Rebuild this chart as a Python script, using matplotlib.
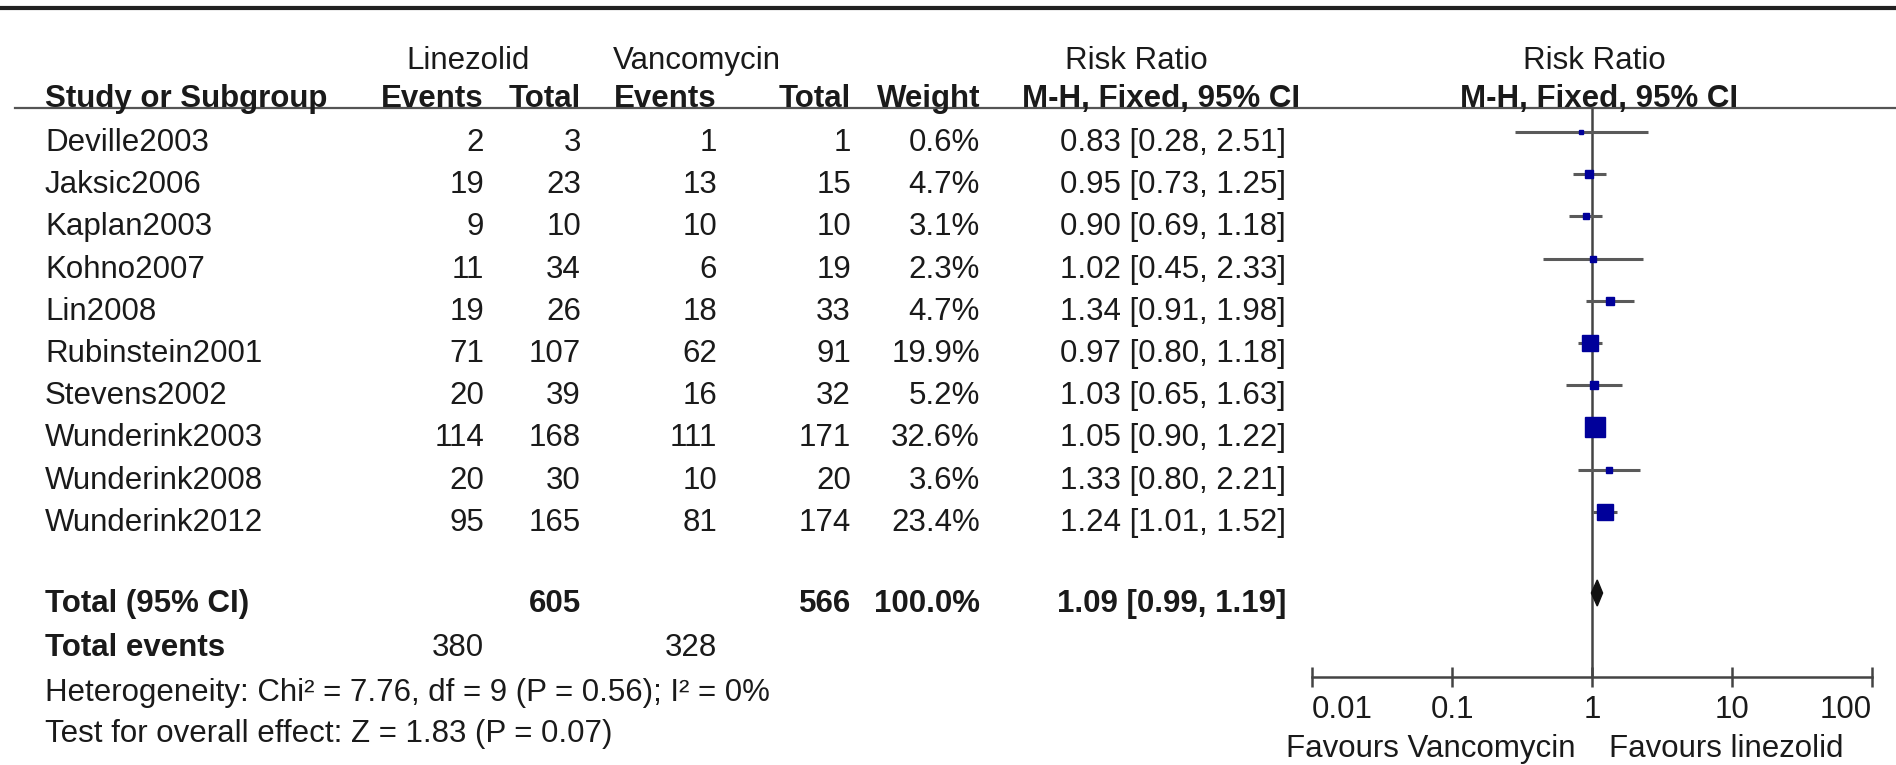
import numpy as np
import matplotlib.pyplot as plt

plt.rcParams['font.family'] = ['Liberation Sans', 'DejaVu Sans']

studies = ['Deville2003', 'Jaksic2006', 'Kaplan2003', 'Kohno2007', 'Lin2008',
           'Rubinstein2001', 'Stevens2002', 'Wunderink2003', 'Wunderink2008',
           'Wunderink2012']
lin_events = [2, 19, 9, 11, 19, 71, 20, 114, 20, 95]
lin_total = [3, 23, 10, 34, 26, 107, 39, 168, 30, 165]
van_events = [1, 13, 10, 6, 18, 62, 16, 111, 10, 81]
van_total = [1, 15, 10, 19, 33, 91, 32, 171, 20, 174]
weight = [0.6, 4.7, 3.1, 2.3, 4.7, 19.9, 5.2, 32.6, 3.6, 23.4]
rr = [0.83, 0.95, 0.90, 1.02, 1.34, 0.97, 1.03, 1.05, 1.33, 1.24]
rr_lo = [0.28, 0.73, 0.69, 0.45, 0.91, 0.80, 0.65, 0.90, 0.80, 1.01]
rr_hi = [2.51, 1.25, 1.18, 2.33, 1.98, 1.18, 1.63, 1.22, 2.21, 1.52]

tot_lin, tot_van = 605, 566
tot_weight = 100.0
tot_lin_events, tot_van_events = 380, 328
tot_rr, tot_lo, tot_hi = 1.09, 0.99, 1.19
heterogeneity = 'Heterogeneity: Chi² = 7.76, df = 9 (P = 0.56); I² = 0%'
overall = 'Test for overall effect: Z = 1.83 (P = 0.07)'
ticks = [0.01, 0.1, 1, 10, 100]
tick_labels = ['0.01', '0.1', '1', '10', '100']

W, H = 1896, 765
fig = plt.figure(figsize=(W / 100, H / 100), dpi=100)

# table part, drawn in pixel coordinates
ax = fig.add_axes([0, 0, 1, 1])
ax.set_xlim(0, W)
ax.set_ylim(H, 0)
ax.axis('off')

fs = 22.5
tc = '#1a1a1a'
row_y = 151 + 42.2 * np.arange(len(studies))   # text baselines
mark_y = row_y - 19                               # forest rows

ax.plot([0, W], [8, 8], color='#222222', lw=3)
ax.plot([15, W], [108, 108], color='#555555', lw=1.6)

def txt(x, y, s, ha='left', bold=False):
    ax.text(x, y, s, ha=ha, va='baseline', fontsize=fs, color=tc,
            fontweight='bold' if bold else 'normal')

# headers
txt(468, 69, 'Linezolid', 'center')
txt(697, 69, 'Vancomycin', 'center')
txt(1136, 69, 'Risk Ratio', 'center')
txt(1594, 69, 'Risk Ratio', 'center')
txt(45, 107, 'Study or Subgroup', bold=True)
txt(484, 107, 'Events', 'right', True)
txt(581, 107, 'Total', 'right', True)
txt(717, 107, 'Events', 'right', True)
txt(851, 107, 'Total', 'right', True)
txt(980, 107, 'Weight', 'right', True)
txt(1161, 107, 'M-H, Fixed, 95% CI', 'center', True)
txt(1599, 107, 'M-H, Fixed, 95% CI', 'center', True)

rr_x = 1286
for i, y in enumerate(row_y):
    txt(45, y, studies[i])
    txt(484, y, str(lin_events[i]), 'right')
    txt(581, y, str(lin_total[i]), 'right')
    txt(717, y, str(van_events[i]), 'right')
    txt(851, y, str(van_total[i]), 'right')
    txt(980, y, f'{weight[i]:.1f}%', 'right')
    txt(rr_x, y, f'{rr[i]:.2f} [{rr_lo[i]:.2f}, {rr_hi[i]:.2f}]', 'right')

y_tot = 612
txt(45, y_tot, 'Total (95% CI)', bold=True)
txt(581, y_tot, str(tot_lin), 'right', True)
txt(851, y_tot, str(tot_van), 'right', True)
txt(980, y_tot, f'{tot_weight:.1f}%', 'right', True)
txt(rr_x, y_tot, f'{tot_rr:.2f} [{tot_lo:.2f}, {tot_hi:.2f}]', 'right', True)
txt(45, 656, 'Total events', bold=True)
txt(484, 656, str(tot_lin_events), 'right')
txt(717, 656, str(tot_van_events), 'right')
txt(45, 701, heterogeneity)
txt(45, 742, overall)

# forest plot on a log axis
fx0, fx1 = 1312, 1872
fa = fig.add_axes([fx0 / W, 0, (fx1 - fx0) / W, 1])
fa.set_xscale('log')
fa.set_xlim(0.01, 100)
fa.set_ylim(H, 0)
fa.patch.set_visible(False)

axis_y = 677
fa.vlines(1, 108, axis_y, color='#444444', lw=1.8, zorder=2)
fa.hlines(mark_y, rr_lo, rr_hi, color='#5a5a5a', lw=2.2, zorder=3)
for i, y in enumerate(mark_y):
    side = max(3.5 * np.sqrt(weight[i]), 4)
    fa.plot(rr[i], y, marker='s', ms=side * 0.72, color='#00009a',
            mec='#00009a', zorder=4)

yd, hd = 593, 26
fa.fill([tot_lo, tot_rr, tot_hi, tot_rr], [yd, yd - hd / 2, yd, yd + hd / 2],
        color='#111111', zorder=4)

for s in ['top', 'left', 'right']:
    fa.spines[s].set_visible(False)
fa.spines['bottom'].set_position(('data', axis_y))
fa.spines['bottom'].set_color('#444444')
fa.spines['bottom'].set_linewidth(1.8)
fa.set_yticks([])
fa.set_xticks(ticks)
fa.set_xticklabels(tick_labels)
fa.minorticks_off()
fa.tick_params(axis='x', direction='inout', length=14, width=1.8,
               color='#444444', labelsize=fs, labelcolor=tc, pad=6)
labels = fa.get_xticklabels()
labels[0].set_ha('left')
labels[-1].set_ha('right')

ax.text(1576, 757, 'Favours Vancomycin', ha='right', va='baseline',
        fontsize=fs, color=tc)
ax.text(1609, 757, 'Favours linezolid', ha='left', va='baseline',
        fontsize=fs, color=tc)

fig.savefig('out.png', dpi=100)
